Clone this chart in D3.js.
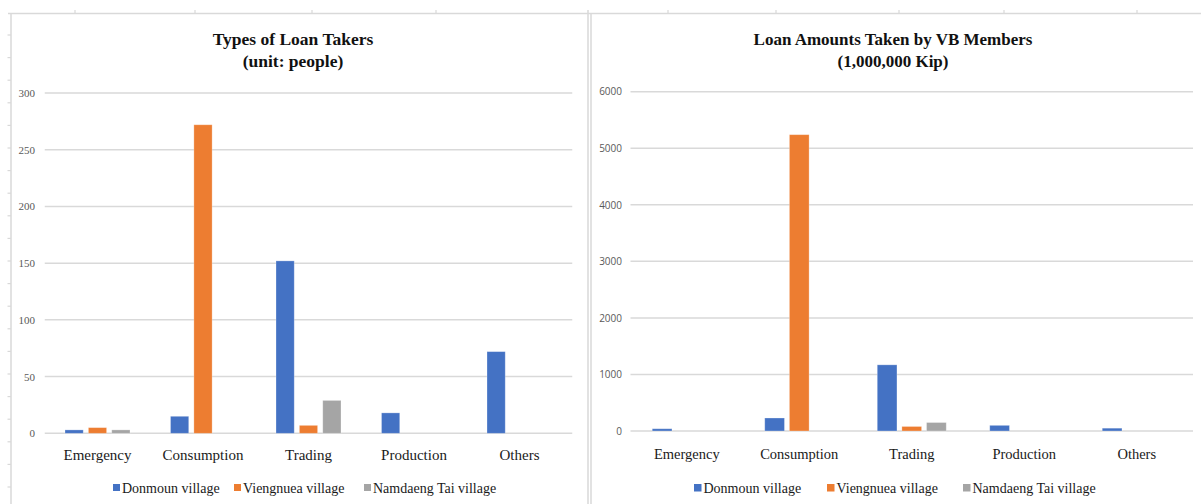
<!DOCTYPE html>
<html>
<head>
<meta charset="utf-8">
<script src="https://cdn.jsdelivr.net/npm/d3@7/dist/d3.min.js"></script>
<style>
  html, body { margin: 0; padding: 0; background: #fff; }
  svg { display: block; }
</style>
</head>
<body>
<svg id="chart" width="1201" height="504"></svg>
<script>
// Loan categories and villages
const categories = ["Emergency", "Consumption", "Trading", "Production", "Others"];
const villages = ["Donmoun village", "Viengnuea village", "Namdaeng Tai village"];

// Number of loan takers (people)
const takersDonmoun   = [3, 15, 152, 18, 72];
const takersViengnuea = [5, 272, 7, 0, 0];
const takersNamdaeng  = [3, 0, 29, 0, 0];
const takersTicks = [0, 50, 100, 150, 200, 250, 300];

// Loan amounts (1,000,000 Kip)
const amountDonmoun   = [40, 230, 1170, 100, 50];
const amountViengnuea = [0, 5240, 80, 0, 0];
const amountNamdaeng  = [0, 0, 150, 0, 0];
const amountTicks = [0, 1000, 2000, 3000, 4000, 5000, 6000];

const colors = ["#4472C4", "#ED7D31", "#A5A5A5"];

const svg = d3.select("#chart");

// Worksheet frame around the two charts
const frame = svg.append("g").attr("stroke", "#d9d9d9").attr("fill", "none");
frame.append("line").attr("x1", 8).attr("x2", 1201).attr("y1", 13.5).attr("y2", 13.5).attr("stroke-width", 1.5);
frame.append("line").attr("x1", 11).attr("x2", 11).attr("y1", 13).attr("y2", 504).attr("stroke-width", 1.5);
frame.append("line").attr("x1", 588).attr("x2", 588).attr("y1", 10).attr("y2", 504).attr("stroke-width", 1.5);
frame.append("line").attr("x1", 591).attr("x2", 591).attr("y1", 13).attr("y2", 504).attr("stroke-width", 1.5);
[75, 195, 312, 436, 668, 776, 899, 1004, 1137].forEach(x => {
  frame.append("line").attr("x1", x).attr("x2", x).attr("y1", 10).attr("y2", 13.5).attr("stroke-width", 1.2);
});
d3.range(35, 504, 22.6).forEach(y => {
  frame.append("line").attr("x1", 7.5).attr("x2", 11).attr("y1", y).attr("y2", y).attr("stroke-width", 1.2);
});

function drawPanel(opts) {
  const g = svg.append("g");
  const series = [opts.s1, opts.s2, opts.s3];

  const x0 = d3.scaleBand().domain(categories).range(opts.xRange).padding(0);
  const x1 = d3.scaleBand().domain(villages).range([0, opts.groupWidth]).paddingInner(opts.innerPad);
  const groupOffset = (x0.bandwidth() - opts.groupWidth) / 2;
  const y = d3.scaleLinear().domain([0, d3.max(opts.ticks)]).range(opts.yRange);

  // Titles
  const title = g.append("text")
    .attr("x", opts.titleX).attr("text-anchor", "middle")
    .attr("font-family", "Liberation Serif, Times New Roman, serif")
    .attr("font-weight", "bold").attr("font-size", opts.titleSize).attr("fill", "#111");
  title.append("tspan").attr("x", opts.titleX).attr("y", 45).text(opts.title1);
  title.append("tspan").attr("x", opts.titleX).attr("y", 67).text(opts.title2);

  // Gridlines
  g.append("g").selectAll("line").data(opts.ticks).join("line")
    .attr("x1", opts.xRange[0]).attr("x2", opts.xRange[1])
    .attr("y1", d => y(d)).attr("y2", d => y(d))
    .attr("stroke", "#d9d9d9").attr("stroke-width", 1.5);

  // Value axis labels
  const yAxis = d3.axisLeft(y).tickValues(opts.ticks).tickSize(0).tickPadding(0).tickFormat(d3.format("d"));
  const ya = g.append("g").attr("transform", `translate(${opts.tickX},0)`).call(yAxis);
  ya.select(".domain").remove();
  ya.selectAll("text")
    .attr("font-family", opts.tickFont).attr("font-size", opts.tickSize).attr("fill", "#595959");

  // Bars
  const groups = g.append("g").selectAll("g").data(categories).join("g")
    .attr("transform", d => `translate(${x0(d) + groupOffset},0)`);
  groups.selectAll("rect")
    .data((c, i) => villages.map((v, k) => ({ v, k, value: series[k][i] })).filter(d => d.value > 0))
    .join("rect")
    .attr("x", d => x1(d.v))
    .attr("width", x1.bandwidth())
    .attr("y", d => y(d.value))
    .attr("height", d => y(0) - y(d.value))
    .attr("fill", d => colors[d.k])
    .attr("stroke", "#ffffff").attr("stroke-opacity", 0.35).attr("stroke-width", 0.8);

  // Category axis labels
  const xAxis = d3.axisBottom(x0).tickSize(0).tickPadding(0);
  const xa = g.append("g").attr("transform", `translate(0,${opts.catY})`).call(xAxis);
  xa.select(".domain").remove();
  xa.selectAll("text")
    .attr("dy", 0)
    .attr("font-family", "Liberation Serif, Times New Roman, serif")
    .attr("font-size", opts.catSize).attr("fill", "#1a1a1a");

  // Legend
  const leg = g.append("g").selectAll("g").data(villages).join("g")
    .attr("transform", (d, i) => `translate(${opts.legendX[i]},${opts.legendY})`);
  leg.append("rect").attr("x", 0).attr("y", -9).attr("width", opts.legSq).attr("height", opts.legSq)
    .attr("fill", (d, i) => colors[i]);
  leg.append("text").attr("x", opts.legSq + 2).attr("y", 0)
    .attr("font-family", "Liberation Serif, Times New Roman, serif")
    .attr("font-size", opts.legSize).attr("fill", "#1a1a1a")
    .text(d => d);
}

drawPanel({
  title1: "Types of Loan Takers", title2: "(unit: people)", titleX: 293, titleSize: 17.5,
  s1: takersDonmoun, s2: takersViengnuea, s3: takersNamdaeng,
  ticks: takersTicks,
  xRange: [44.75, 572.25], yRange: [433.3, 93],
  groupWidth: 65, innerPad: 0.22,
  tickX: 35, tickSize: 11, tickFont: "Liberation Serif, Times New Roman, serif",
  catY: 460, catSize: 15,
  legendX: [113, 234, 364], legendY: 493, legSq: 7, legSize: 14
});

drawPanel({
  title1: "Loan Amounts Taken by VB Members", title2: "(1,000,000 Kip)", titleX: 893, titleSize: 17,
  s1: amountDonmoun, s2: amountViengnuea, s3: amountNamdaeng,
  ticks: amountTicks,
  xRange: [630.5, 1193], yRange: [431, 91.7],
  groupWidth: 69, innerPad: 0.2,
  tickX: 622, tickSize: 10, tickFont: "Open Sans, Liberation Sans, sans-serif",
  catY: 459, catSize: 14.5,
  legendX: [694, 827, 963], legendY: 493, legSq: 7.5, legSize: 14
});
</script>
</body>
</html>
